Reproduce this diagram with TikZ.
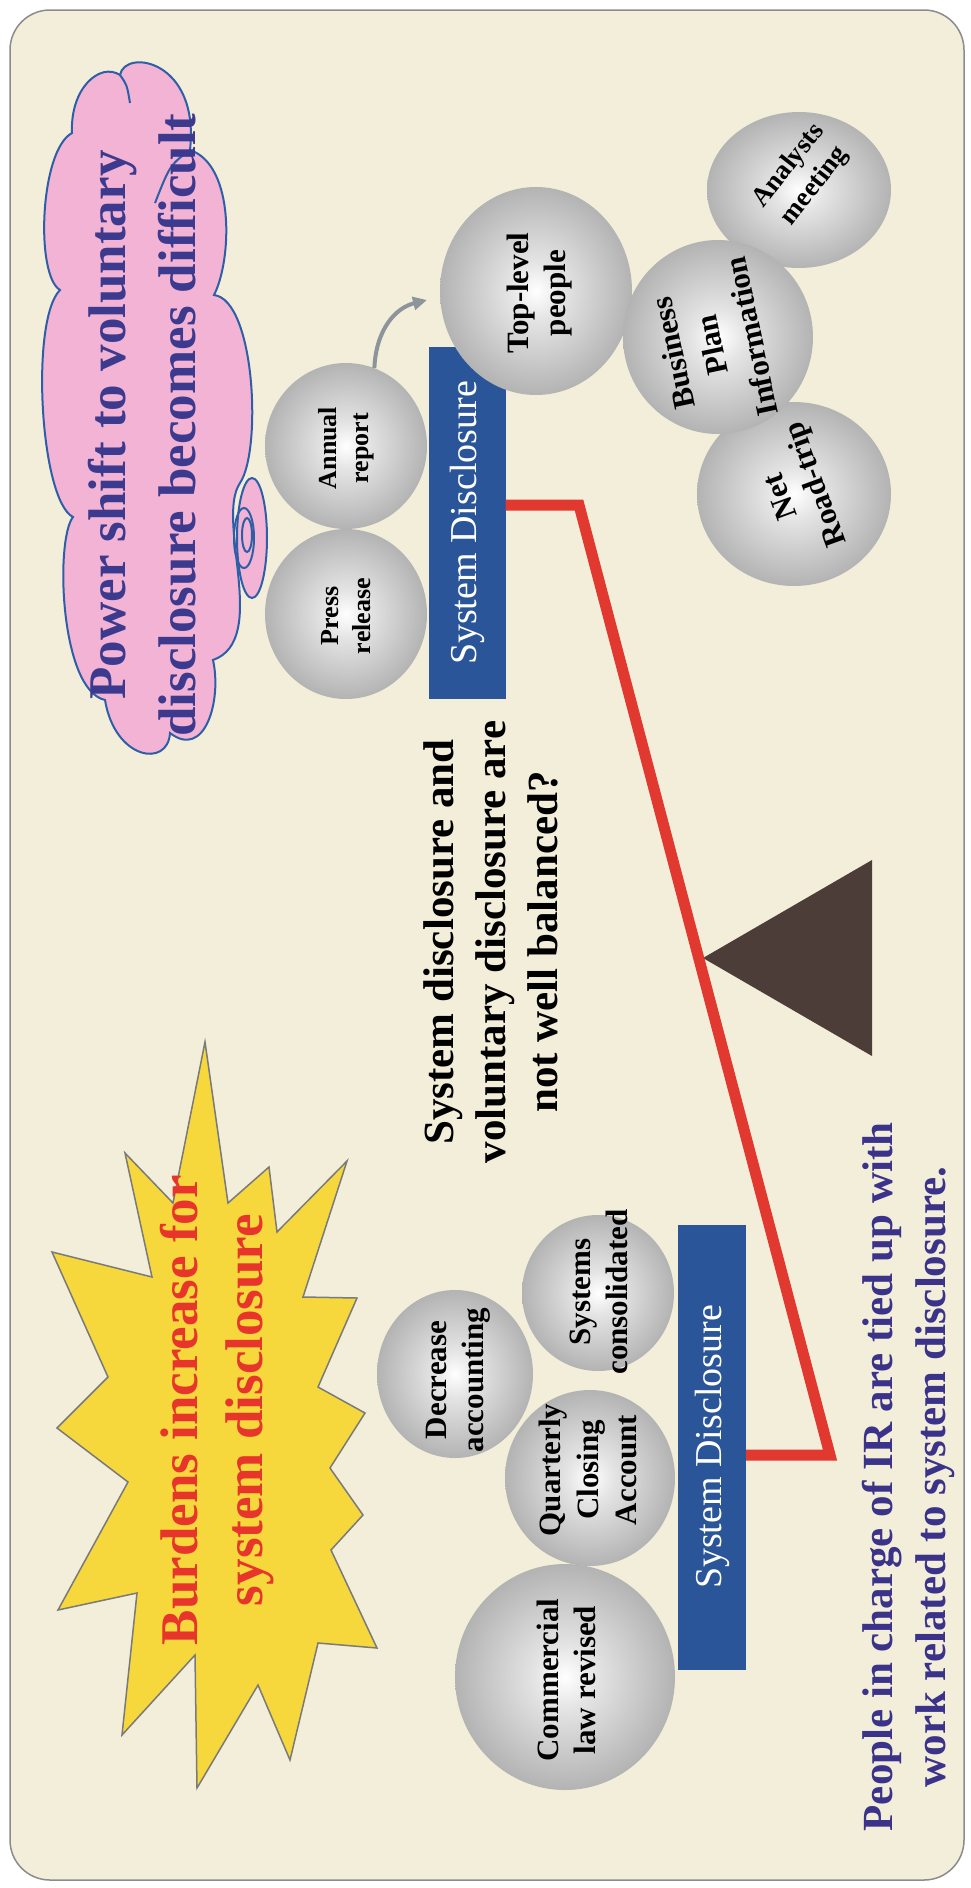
\documentclass[tikz,border=0pt]{standalone}
\usepackage{fontspec}
\setmainfont{Liberation Serif}
\usetikzlibrary{shapes.geometric,arrows.meta}
\definecolor{cream}{HTML}{F2EEDA}
\definecolor{slideborder}{HTML}{8C8C8C}
\definecolor{cloudpink}{HTML}{F2B3D4}
\definecolor{cloudblue}{HTML}{2E5FA6}
\definecolor{cloudtext}{HTML}{3C3A8E}
\definecolor{staryellow}{HTML}{F6D83C}
\definecolor{starline}{HTML}{7A7A7A}
\definecolor{burdred}{HTML}{E8352B}
\definecolor{beamred}{HTML}{E1392F}
\definecolor{barblue}{HTML}{2A5699}
\definecolor{fulcrum}{HTML}{4D3D38}
\definecolor{purpletext}{HTML}{3B3389}
\definecolor{arrowgray}{HTML}{8D949B}
\definecolor{ballA}{HTML}{E4E4E4}
\definecolor{ballB}{HTML}{ABABAB}
\definecolor{ballC}{HTML}{858585}
\pgfdeclareradialshading{ballshade}{\pgfpoint{0bp}{0bp}}{color(0bp)=(white); color(7bp)=(ballA); color(28bp)=(ballB); color(50bp)=(ballC); color(100bp)=(ballC)}
\begin{document}
\begin{tikzpicture}[x=1pt,y=-1pt,
  ball/.style={ellipse, shading=ballshade, inner sep=0pt, rotate=90},
  balltxt/.style={font=\bfseries\fontsize{31}{37}\selectfont, align=center, rotate=90, text=black, inner sep=0pt},
  smalltxt/.style={balltxt, font=\bfseries\fontsize{26}{32}\selectfont},
  sdbar/.style={rectangle, fill=barblue, inner sep=0pt, rotate=90, text=white, font=\fontsize{38}{44}\selectfont},
  beam/.style={draw=beamred, line width=11pt, line join=miter},
  cloudline/.style={draw=cloudblue, line width=2pt},
  bigtxt/.style={align=center, rotate=90, inner sep=0pt}
]
\useasboundingbox (0,0) rectangle (971,1888);
\fill[white] (0,0) rectangle (971,1888);
\draw[slideborder, line width=1.5pt, fill=cream, rounded corners=40pt] (10,10) rectangle (964,1880);

% cloud
\draw[cloudline, fill=cloudpink] (72,133) .. controls (70,88) and (100,62) .. (120,75)
  .. controls (125,48) and (200,60) .. (190,150)
  .. controls (235,165) and (232,260) .. (214,295)
  .. controls (255,300) and (262,450) .. (240,483)
  .. controls (215,520) and (270,640) .. (213,660)
  .. controls (222,700) and (205,760) .. (170,733)
  .. controls (168,768) and (115,760) .. (105,700)
  .. controls (60,690) and (55,540) .. (73,517)
  .. controls (40,500) and (30,320) .. (60,290)
  .. controls (35,275) and (40,150) .. (72,133) -- cycle;
\draw[cloudline] (120,75) .. controls (127,85) .. (130,103);
\draw[cloudline] (190,150) .. controls (170,165) .. (155,203);
\draw[cloudline, fill=cloudpink] (252,538) ellipse [x radius=15pt, y radius=60pt];
\draw[cloudline] (244,538) ellipse [x radius=10pt, y radius=30pt];
\draw[cloudline] (247,535) ellipse [x radius=5pt, y radius=17pt];
\node[bigtxt, text=cloudtext, font=\bfseries\fontsize{53}{70}\selectfont] (cloudtxt) at (142,425)
  {Power shift to voluntary\\disclosure becomes difficult};

% star
\draw[starline, line width=1.5pt, fill=staryellow]
  (205,1042) -- (228,1203) -- (269,1167) -- (277,1232) -- (347,1161) -- (303,1297) -- (357,1298)
  -- (318,1387) -- (365,1413) -- (330,1468) -- (363,1515) -- (331,1550) -- (377,1648) -- (318,1643)
  -- (290,1760) -- (258,1685) -- (197,1788) -- (195,1655) -- (122,1735) -- (137,1593) -- (58,1610)
  -- (128,1482) -- (57,1428) -- (108,1377) -- (52,1252) -- (152,1277) -- (125,1153) -- (173,1203) -- cycle;
\node[bigtxt, text=burdred, font=\bfseries\fontsize{53}{65}\selectfont] (burdtxt) at (217,1410)
  {Burdens increase for\\system disclosure};

% fulcrum
\fill[fulcrum] (703,958) -- (872,860) -- (872,1056) -- cycle;

% bars
\node[sdbar, minimum width=352pt, minimum height=77pt] (sd1) at (467,523) {System Disclosure};
\node[sdbar, minimum width=445pt, minimum height=68pt] (sd2) at (712,1447) {System Disclosure};

% beam
\coordinate (b1) at (579,505);
\coordinate (b2) at (830,1455);
\draw[beam] (sd1.south |- b1) -- (b1) -- (b2) -- (sd2.south |- b2);

% upper spheres
\node[ball, minimum width=170pt, minimum height=162pt] (press) at (346,614) {};
\node[ball, minimum width=166pt, minimum height=162pt] (annual) at (346,446) {};
\node[ball, minimum width=208pt, minimum height=192pt] (top) at (536,291) {};
\node[ball, minimum width=184pt, minimum height=194pt] (net) at (794,494) {};
\node[ball, minimum width=156pt, minimum height=184pt] (analysts) at (799,190) {};
\node[ball, minimum width=194pt, minimum height=190pt] (business) at (718,337) {};

\node[smalltxt] (presstxt) at (346,616) {Press\\release};
\node[smalltxt] (annualtxt) at (346,448) {Annual\\report};
\node[balltxt] (toptxt) at (540,293) {Top-level\\people};
\node[balltxt, rotate=20] (nettxt) at (800,490) {Net\\Road-trip};
\node[balltxt, font=\bfseries\fontsize{27}{33}\selectfont, rotate=-38] (analyststxt) at (802,176) {Analysts\\meeting};
\node[balltxt, rotate=12, font=\bfseries\fontsize{31}{40}\selectfont] (businesstxt) at (712,345) {Business\\Plan\\Information};

% arrow
\coordinate (arrowend) at (427,300);
\draw[arrowgray, line width=4pt, -{Triangle[length=14pt,width=13pt]}]
  (annual.-20) .. controls (376,330) and (395,308) .. (arrowend);

% lower spheres
\node[ball, minimum width=168pt, minimum height=156pt] (decrease) at (455,1374) {};
\node[ball, minimum width=156pt, minimum height=152pt] (systems) at (598,1293) {};
\node[ball, minimum width=176pt, minimum height=170pt] (quarterly) at (590,1478) {};
\node[ball, minimum width=226pt, minimum height=220pt] (commercial) at (565,1677) {};

\node[balltxt] (decreasetxt) at (458,1380) {Decrease\\accounting};
\node[balltxt] (systemstxt) at (599,1292) {Systems\\consolidated};
\node[balltxt, font=\bfseries\fontsize{31}{38}\selectfont] (quarterlytxt) at (588,1470) {Quarterly\\Closing\\Account};
\node[balltxt] (commercialtxt) at (566,1680) {Commercial\\law revised};

% texts
\node[bigtxt, text=black, font=\bfseries\fontsize{43}{52}\selectfont] (question) at (491,942)
  {System disclosure and\\voluntary disclosure are\\not well balanced?};
\node[bigtxt, text=purpletext, font=\bfseries\fontsize{43}{53}\selectfont] (people) at (908,1477)
  {People in charge of IR are tied up with\\work related to system disclosure.};
\end{tikzpicture}
\end{document}
